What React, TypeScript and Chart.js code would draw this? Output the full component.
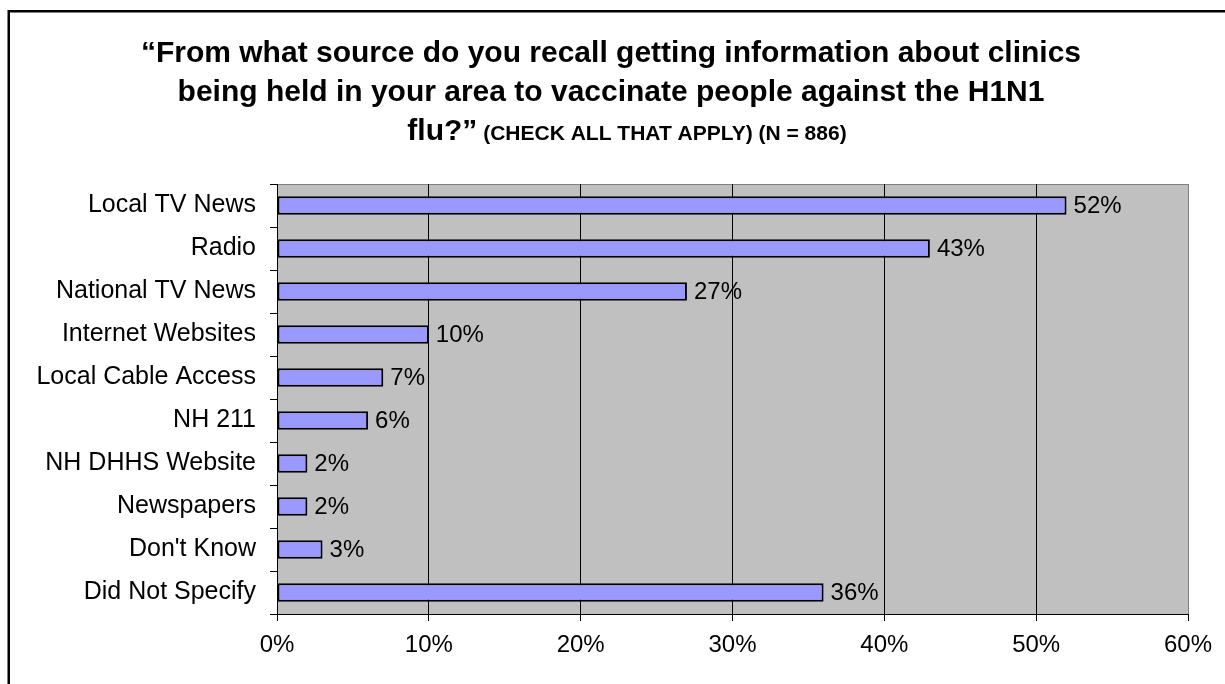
import React, { useEffect, useRef } from "react";
import { Chart, registerables } from "chart.js";

Chart.register(...registerables);

// Survey answers and the share of respondents choosing each (percent)
const sources = [
  "Local TV News",
  "Radio",
  "National TV News",
  "Internet Websites",
  "Local Cable Access",
  "NH 211",
  "NH DHHS Website",
  "Newspapers",
  "Don't Know",
  "Did Not Specify",
];
const shares = [52, 43, 27, 10, 7, 6, 2, 2, 3, 36];

const titleLines = [
  "\u201CFrom what source do you recall getting information about clinics",
  "being held in your area to vaccinate people against the H1N1",
];
const titleTail = "flu?\u201D";
const titleNote = " (CHECK ALL THAT APPLY) (N = 886)";

const FONT = "'Liberation Sans', Arial, Helvetica, sans-serif";

const framePlugin = {
  id: "frame",
  beforeDraw(chart: any) {
    const { ctx, chartArea } = chart;
    const { left, top, right, bottom } = chartArea;
    ctx.save();
    ctx.fillStyle = "#C0C0C0";
    ctx.fillRect(left, top, right - left, bottom - top);
    ctx.strokeStyle = "#808080";
    ctx.lineWidth = 1;
    ctx.beginPath();
    ctx.moveTo(left, top + 0.5);
    ctx.lineTo(right, top + 0.5);
    ctx.stroke();
    ctx.restore();
  },
  afterDatasetsDraw(chart: any) {
    const { ctx } = chart;
    const meta = chart.getDatasetMeta(0);
    ctx.save();
    ctx.font = `24px ${FONT}`;
    ctx.fillStyle = "#000";
    ctx.textAlign = "left";
    ctx.textBaseline = "middle";
    meta.data.forEach((bar: any, i: number) => {
      ctx.fillText(`${shares[i]}%`, bar.x + 7, bar.y + 1);
    });
    ctx.restore();
  },
  afterDraw(chart: any) {
    const { ctx } = chart;
    ctx.save();
    // surrounding box
    ctx.strokeStyle = "#000";
    ctx.lineWidth = 2.5;
    ctx.strokeRect(8.75, 11.25, 1400, 900);

    // title
    ctx.fillStyle = "#000";
    ctx.textBaseline = "alphabetic";
    ctx.textAlign = "center";
    ctx.font = `bold 30px ${FONT}`;
    ctx.fillText(titleLines[0], 611, 62);
    ctx.fillText(titleLines[1], 611, 101);

    ctx.textAlign = "left";
    ctx.font = `bold 30px ${FONT}`;
    const w1 = ctx.measureText(titleTail).width;
    ctx.font = `bold 21px ${FONT}`;
    const w2 = ctx.measureText(titleNote).width;
    const x0 = 627 - (w1 + w2) / 2;
    ctx.font = `bold 30px ${FONT}`;
    ctx.fillText(titleTail, x0, 140);
    ctx.font = `bold 21px ${FONT}`;
    ctx.fillText(titleNote, x0 + w1, 140);
    ctx.restore();
  },
};

export default function App() {
  const ref = useRef<HTMLCanvasElement | null>(null);

  useEffect(() => {
    if (!ref.current) return;
    const chart = new Chart(ref.current, {
      type: "bar",
      data: {
        labels: sources,
        datasets: [
          {
            data: shares,
            backgroundColor: "#9999FF",
            borderColor: "#000000",
            borderWidth: 2,
            borderSkipped: false,
            barPercentage: 0.43,
            categoryPercentage: 1,
          },
        ],
      },
      options: {
        indexAxis: "y",
        animation: false,
        responsive: true,
        maintainAspectRatio: false,
        layout: { padding: { top: 184, right: 37, left: 0, bottom: 0 } },
        plugins: {
          legend: { display: false },
          tooltip: { enabled: false },
          title: { display: false },
        },
        scales: {
          x: {
            min: 0,
            max: 60,
            afterFit: (scale: any) => {
              scale.height = 70;
            },
            ticks: {
              stepSize: 10,
              color: "#000",
              padding: 10,
              font: { family: FONT, size: 24 },
              callback: (v: any) => `${v}%`,
            },
            grid: {
              color: (c: any) => (c.tick && c.tick.value === 60 ? "#808080" : "#000"),
              tickColor: "#000",
              lineWidth: 1,
              tickLength: 7,
            },
            border: { display: true, color: "#000", width: 1 },
          },
          y: {
            afterFit: (scale: any) => {
              scale.width = 277;
            },
            ticks: {
              color: "#000",
              padding: 14,
              font: { family: FONT, size: 25 },
            },
            grid: {
              offset: true,
              drawOnChartArea: false,
              tickLength: 7,
              color: "#000",
              tickColor: "#000",
            },
            border: { display: true, color: "#000", width: 1 },
          },
        },
      },
      plugins: [framePlugin],
    });
    return () => chart.destroy();
  }, []);

  return (
    <div
      style={{
        position: "fixed",
        left: 0,
        top: 0,
        width: 1225,
        height: 684,
        background: "#fff",
      }}
    >
      <canvas ref={ref} />
    </div>
  );
}
